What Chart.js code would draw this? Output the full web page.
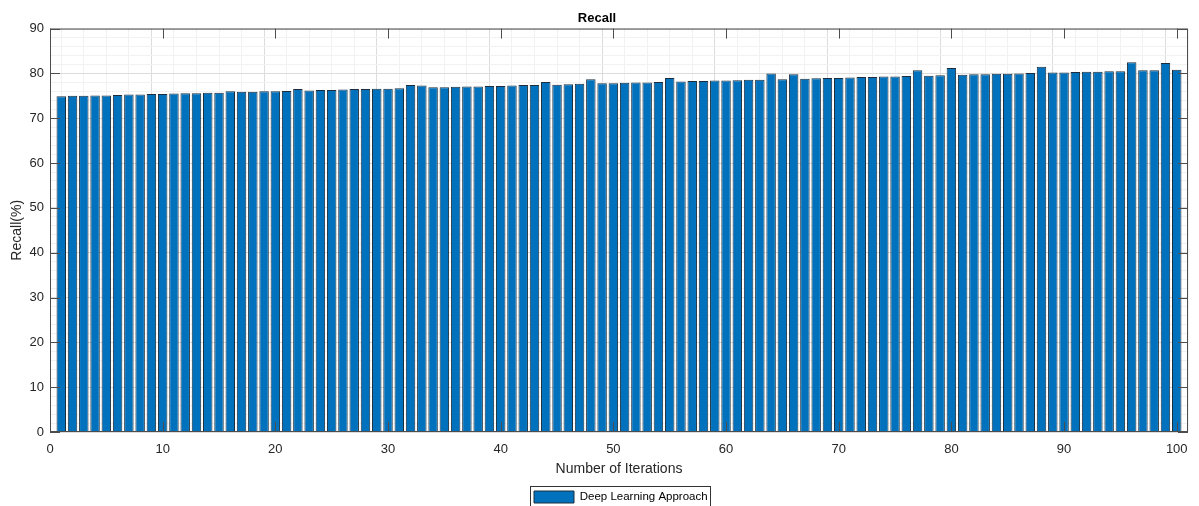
<!DOCTYPE html>
<html>
<head>
<meta charset="utf-8">
<script src="https://cdn.jsdelivr.net/npm/chart.js@4.4.0/dist/chart.umd.min.js"></script>
<style>
html, body { margin: 0; padding: 0; background: #fff; }
</style>
</head>
<body>
<canvas id="recall-chart" width="1199" height="506"></canvas>
<script>
// iteration numbers (x) and recall in percent (y)
var iterations = [1,2,3,4,5,6,7,8,9,10,11,12,13,14,15,16,17,18,19,20,
    21,22,23,24,25,26,27,28,29,30,31,32,33,34,35,36,37,38,39,40,
    41,42,43,44,45,46,47,48,49,50,51,52,53,54,55,56,57,58,59,60,
    61,62,63,64,65,66,67,68,69,70,71,72,73,74,75,76,77,78,79,80,
    81,82,83,84,85,86,87,88,89,90,91,92,93,94,95,96,97,98,99,100];
var recall = [74.9,75.0,75.0,75.1,75.1,75.2,75.3,75.3,75.4,75.4,
    75.5,75.6,75.6,75.7,75.7,76.0,75.9,75.9,76.0,76.0,
    76.1,76.5,76.2,76.3,76.3,76.4,76.5,76.5,76.6,76.6,
    76.7,77.4,77.3,76.9,76.9,77.0,77.1,77.1,77.2,77.2,
    77.3,77.4,77.4,78.1,77.5,77.6,77.7,78.7,77.8,77.8,
    77.9,78.0,78.0,78.1,79.0,78.2,78.3,78.3,78.4,78.4,
    78.5,78.6,78.6,80.0,78.7,79.8,78.8,78.9,79.0,79.0,
    79.1,79.2,79.2,79.3,79.3,79.4,80.7,79.5,79.6,81.2,
    79.7,79.8,79.8,79.9,79.9,80.0,80.1,81.5,80.2,80.2,
    80.3,80.4,80.4,80.5,80.5,82.5,80.7,80.7,82.3,80.8];
var seriesName = "Deep Learning Approach";
var xMajorTicks = [0,10,20,30,40,50,60,70,80,90,100];
var yMajorTicks = [0,10,20,30,40,50,60,70,80,90];

var points = [];
for (var i = 0; i < iterations.length; i++) {
    points.push({x: iterations[i], y: recall[i]});
}

function isMajor(list, v) {
    return list.indexOf(Math.round(v)) >= 0 && Math.abs(v - Math.round(v)) < 1e-6;
}

function gridColor(list) {
    return function (c) {
        if (!c.tick) return '#f2f2f2';
        return isMajor(list, c.tick.value) ? '#dcdcdc' : '#f2f2f2';
    };
}

// legend sits under the middle of the plot, not the canvas
var legendSpot = { left: 534, top: 491 };

// axes box, inner tick marks and the frame round the legend (matlab look)
var frame = {
    id: 'frame',
    afterUpdate: function (chart) {
        var lg = chart.legend;
        if (!lg || !lg.legendHitBoxes || !lg.legendHitBoxes.length) return;
        var hb = lg.legendHitBoxes[0];
        var dx = legendSpot.left - hb.left, dy = legendSpot.top - hb.top;
        lg.left += dx; lg.right += dx; lg.top += dy; lg.bottom += dy;
        lg.legendHitBoxes.forEach(function (b) { b.left += dx; b.top += dy; });
    },
    afterDatasetsDraw: function (chart) {
        var ctx = chart.ctx, a = chart.chartArea;
        var xs = chart.scales.x, ys = chart.scales.y;
        ctx.save();
        ctx.strokeStyle = '#4d4d4d';
        ctx.lineWidth = 1;
        ctx.strokeRect(a.left + 0.5, a.top + 0.5, a.right - a.left - 1, a.bottom - a.top - 1);
        ctx.beginPath();
        xMajorTicks.forEach(function (t) {
            var px = Math.round(xs.getPixelForValue(t)) + 0.5;
            ctx.moveTo(px, a.bottom); ctx.lineTo(px, a.bottom - 10);
            ctx.moveTo(px, a.top); ctx.lineTo(px, a.top + 10);
        });
        yMajorTicks.forEach(function (t) {
            var py = Math.round(ys.getPixelForValue(t)) + 0.5;
            ctx.moveTo(a.left, py); ctx.lineTo(a.left + 10, py);
            ctx.moveTo(a.right, py); ctx.lineTo(a.right - 10, py);
        });
        ctx.stroke();
        ctx.restore();
    },
    afterDraw: function (chart) {
        var lg = chart.legend;
        if (!lg || !lg.legendHitBoxes || !lg.legendHitBoxes.length) return;
        var hb = lg.legendHitBoxes[0];
        var ctx = chart.ctx;
        ctx.save();
        ctx.strokeStyle = '#333';
        ctx.lineWidth = 1;
        ctx.strokeRect(Math.round(hb.left) - 3.5, Math.round(hb.top) - 4.5, Math.round(hb.width) + 6, 40);
        ctx.restore();
    }
};

var chart = new Chart(document.getElementById('recall-chart'), {
    type: 'bar',
    data: {
        datasets: [{
            label: seriesName,
            data: points,
            backgroundColor: '#0072bd',
            borderColor: '#1c2e3d',
            borderWidth: 1,
            categoryPercentage: 1,
            barPercentage: 0.84
        }]
    },
    options: {
        responsive: false,
        animation: false,
        layout: { padding: { left: 6, right: 11, top: 2, bottom: 0 } },
        plugins: {
            title: {
                display: true,
                text: 'Recall',
                color: '#000',
                font: { family: 'Liberation Sans, Arial, sans-serif', size: 13, weight: 'bold' },
                padding: { top: 9, bottom: 2 }
            },
            legend: {
                position: 'bottom',
                labels: {
                    boxWidth: 40,
                    boxHeight: 12,
                    color: '#000',
                    padding: 6,
                    font: { family: 'Liberation Sans, Arial, sans-serif', size: 11.5 }
                }
            },
            tooltip: { enabled: false }
        },
        scales: {
            x: {
                type: 'linear',
                min: 0,
                max: 101,
                offset: false,
                border: { display: false },
                grid: { drawTicks: false, color: gridColor(xMajorTicks) },
                ticks: {
                    stepSize: 2,
                    includeBounds: false,
                    autoSkip: false,
                    maxRotation: 0,
                    padding: 10,
                    color: '#262626',
                    font: { family: 'Liberation Sans, Arial, sans-serif', size: 13 },
                    callback: function (v) { return isMajor(xMajorTicks, v) ? v : ''; }
                },
                title: {
                    display: true,
                    text: 'Number of Iterations',
                    color: '#262626',
                    font: { family: 'Liberation Sans, Arial, sans-serif', size: 14 },
                    padding: { top: 0, bottom: 0 }
                },
                afterFit: function (s) { s.height = 46; }
            },
            y: {
                min: 0,
                max: 90,
                border: { display: false },
                grid: { drawTicks: false, color: gridColor(yMajorTicks) },
                ticks: {
                    stepSize: 2,
                    autoSkip: false,
                    padding: 6,
                    color: '#262626',
                    font: { family: 'Liberation Sans, Arial, sans-serif', size: 13 },
                    callback: function (v) { return isMajor(yMajorTicks, v) ? v : ''; }
                },
                title: {
                    display: true,
                    text: 'Recall(%)',
                    color: '#262626',
                    font: { family: 'Liberation Sans, Arial, sans-serif', size: 14 },
                    padding: { top: 3, bottom: 0 }
                },
                afterFit: function (s) { s.width = 44; }
            }
        }
    },
    plugins: [frame]
});
</script>
</body>
</html>
